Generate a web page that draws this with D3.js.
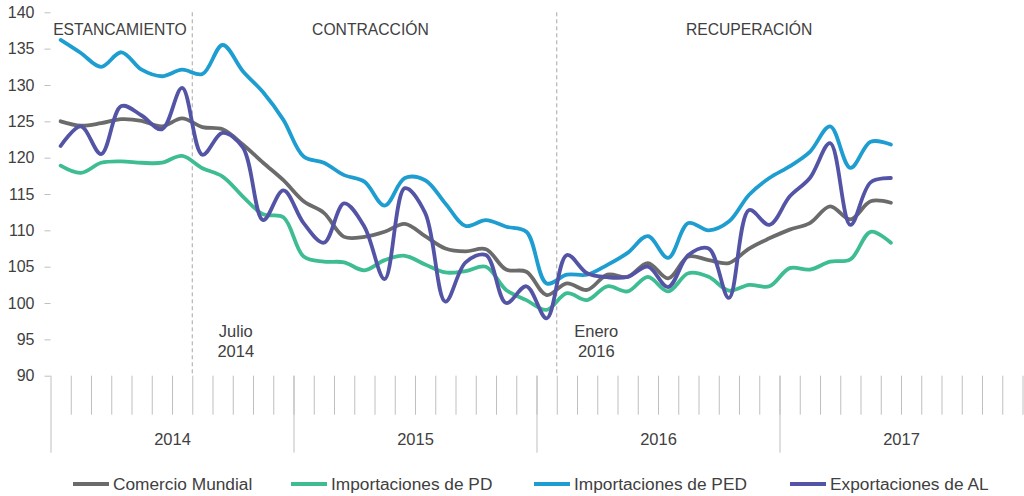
<!DOCTYPE html>
<html>
<head>
<meta charset="utf-8">
<script src="https://cdn.jsdelivr.net/npm/d3@7"></script>
<style>
  html, body { margin: 0; padding: 0; background: #fff; }
  svg { display: block; font-family: "Liberation Sans", Arial, sans-serif; }
</style>
</head>
<body>
<svg id="chart" width="1024" height="496"></svg>
<script>
// ─── Data (monthly index, Jan 2014 – Jun 2017) ──────────────────────────────
const years = ['2014', '2015', '2016', '2017'];
const yTicks = [90, 95, 100, 105, 110, 115, 120, 125, 130, 135, 140];

const seriesNames = [
  'Comercio Mundial',
  'Importaciones de PD',
  'Importaciones de PED',
  'Exportaciones de AL'
];

const comercioMundial = [
  125.0, 124.4, 124.75, 125.3, 125.07, 124.3, 125.4, 124.2, 123.9, 121.8,
  119.3, 116.9, 114.0, 112.4, 109.1, 109.1, 109.8, 110.9, 109.2, 107.5,
  107.1, 107.4, 104.6, 104.3, 101.1, 102.7, 101.8, 103.9, 103.6, 105.5,
  103.4, 106.4, 105.9, 105.5, 107.5, 108.9, 110.1, 111.0, 113.3, 111.5,
  114.0, 113.8
];

const importacionesPD = [
  118.9, 117.9, 119.3, 119.5, 119.3, 119.3, 120.25, 118.55, 117.4, 114.65,
  112.2, 111.8, 106.4, 105.7, 105.6, 104.5, 105.9, 106.5, 105.3, 104.2,
  104.4, 105.0, 101.8, 100.4, 99.05, 101.35, 100.4, 102.3, 101.6, 103.6,
  101.6, 104.1, 103.6, 101.7, 102.5, 102.3, 104.8, 104.6, 105.7, 106.0,
  109.8, 108.3
];

const importacionesPED = [
  136.2, 134.4, 132.5, 134.5, 132.1, 131.2, 132.1, 131.5, 135.5, 131.9,
  129.0, 125.2, 120.15, 119.3, 117.6, 116.7, 113.4, 117.2, 116.9, 113.7,
  110.6, 111.4, 110.5, 109.8, 102.7, 103.9, 103.9, 105.25, 106.9, 109.2,
  106.2, 111.0, 110.0, 111.2, 114.9, 117.2, 118.8, 120.8, 124.3, 118.6,
  122.2, 121.8
];

const exportacionesAL = [
  121.6, 124.3, 120.5, 127.1, 125.8, 123.9, 129.6, 120.4, 123.4, 121.4,
  111.4, 115.5, 111.0, 108.3, 113.7, 110.5, 103.3, 115.8, 112.4, 100.2,
  105.6, 106.6, 100.0, 102.3, 97.9, 106.6, 104.1, 103.55, 103.6, 105.0,
  102.2, 106.6, 107.5, 100.7, 112.8, 110.75, 114.65, 117.2, 122.0, 110.75,
  116.6, 117.2
];

const seriesValues = [comercioMundial, importacionesPD, importacionesPED, exportacionesAL];
const seriesColors = ['#6b6b6b', '#3dbd91', '#1d9dd0', '#5454a6'];

// Period labels and annotations, placed in month units
const periods = [
  { text: 'ESTANCAMIENTO', at: 3.43 },
  { text: 'CONTRACCIÓN', at: 15.8 },
  { text: 'RECUPERACIÓN', at: 34.5 }
];
const markers = [
  { at: 7, label: ['Julio', '2014'], labelAt: 9.15 },
  { at: 25, label: ['Enero', '2016'], labelAt: 26.95 }
];

// ─── Layout ─────────────────────────────────────────────────────────────────
const X0 = 50.5, X1 = 1022.5;
const Y_TOP = 12.3, Y_BOT = 375.7;
const N_MONTHS = 48;
const LEGEND_X = [73, 291, 534, 790];   // swatch start of each legend entry

const svg = d3.select('#chart');

const x = d3.scaleLinear().domain([0, N_MONTHS]).range([X0, X1]);
const y = d3.scaleLinear().domain([90, 140]).range([Y_BOT, Y_TOP]);

const AXIS_COLOR = '#bfbfbf';
const TEXT_COLOR = '#404040';

// ── Y axis ──────────────────────────────────────────────────────────────────
const yAxis = svg.append('g')
  .attr('transform', `translate(${X0},0)`)
  .call(d3.axisLeft(y).tickValues(yTicks).tickSize(6).tickPadding(10));
yAxis.select('.domain').remove();
yAxis.selectAll('line').attr('stroke', AXIS_COLOR);
yAxis.selectAll('text')
  .style('font-size', '16px')
  .style('font-family', '"Liberation Sans", Arial, sans-serif')
  .attr('fill', TEXT_COLOR);

// ── X axis: month ticks, year separators, year labels ───────────────────────
const monthAxis = svg.append('g')
  .attr('transform', `translate(0,${Y_BOT})`)
  .call(d3.axisBottom(x).tickValues(d3.range(1, N_MONTHS + 1)).tickSize(39).tickFormat(''));
monthAxis.select('.domain').remove();
monthAxis.selectAll('line').attr('stroke', AXIS_COLOR);

const yearAxis = svg.append('g')
  .attr('transform', `translate(0,${Y_BOT})`)
  .call(d3.axisBottom(x).tickValues(years.map((_, i) => i * 12)).tickSize(77).tickFormat(''));
yearAxis.select('.domain').remove();
yearAxis.selectAll('line').attr('stroke', AXIS_COLOR);

const yearLabels = svg.append('g')
  .attr('transform', `translate(0,${Y_BOT})`)
  .call(d3.axisBottom(x).tickValues(years.map((_, i) => i * 12 + 6)).tickSize(0).tickPadding(58)
    .tickFormat((d, i) => years[i]));
yearLabels.select('.domain').remove();
yearLabels.selectAll('text')
  .style('font-size', '16.5px')
  .style('font-family', '"Liberation Sans", Arial, sans-serif')
  .attr('fill', TEXT_COLOR);

// ── Period separators (dashed) ──────────────────────────────────────────────
svg.append('g')
  .selectAll('line')
  .data(markers)
  .join('line')
  .attr('x1', d => x(d.at))
  .attr('x2', d => x(d.at))
  .attr('y1', Y_TOP)
  .attr('y2', Y_BOT)
  .attr('stroke', '#a6a6a6')
  .attr('stroke-width', 1)
  .attr('stroke-dasharray', '4,3');

// ── Period labels ───────────────────────────────────────────────────────────
svg.append('g')
  .selectAll('text')
  .data(periods)
  .join('text')
  .attr('x', d => x(d.at))
  .attr('y', 34.5)
  .attr('text-anchor', 'middle')
  .style('font-size', '15.7px')
  .attr('fill', TEXT_COLOR)
  .text(d => d.text);

// ── Marker annotations ──────────────────────────────────────────────────────
const ann = svg.append('g')
  .selectAll('text')
  .data(markers)
  .join('text')
  .attr('text-anchor', 'middle')
  .style('font-size', '16.5px')
  .attr('fill', TEXT_COLOR);
ann.selectAll('tspan')
  .data(d => d.label.map(t => ({ t, at: d.labelAt })))
  .join('tspan')
  .attr('x', d => x(d.at))
  .attr('y', (d, i) => 336.7 + i * 20.3)
  .text(d => d.t);

// ── Lines ───────────────────────────────────────────────────────────────────
const line = d3.line()
  .x((d, i) => x(i + 0.5))
  .y(d => y(d))
  .curve(d3.curveCatmullRom.alpha(0.5));

svg.append('g')
  .attr('fill', 'none')
  .selectAll('path')
  .data(seriesValues)
  .join('path')
  .attr('d', d => line(d))
  .attr('stroke', (d, i) => seriesColors[i])
  .attr('stroke-width', 3.8)
  .attr('stroke-linejoin', 'round')
  .attr('stroke-linecap', 'round');

// ── Legend ──────────────────────────────────────────────────────────────────
const legend = svg.append('g')
  .attr('transform', 'translate(0,484)')
  .selectAll('g')
  .data(seriesNames)
  .join('g')
  .attr('transform', (d, i) => `translate(${LEGEND_X[i]},0)`);

legend.append('line')
  .attr('x1', 0).attr('x2', 36)
  .attr('y1', 0).attr('y2', 0)
  .attr('stroke', (d, i) => seriesColors[i])
  .attr('stroke-width', 4);

legend.append('text')
  .attr('x', 40)
  .attr('dy', '0.36em')
  .style('font-size', '17.3px')
  .attr('fill', TEXT_COLOR)
  .text(d => d);
</script>
</body>
</html>
